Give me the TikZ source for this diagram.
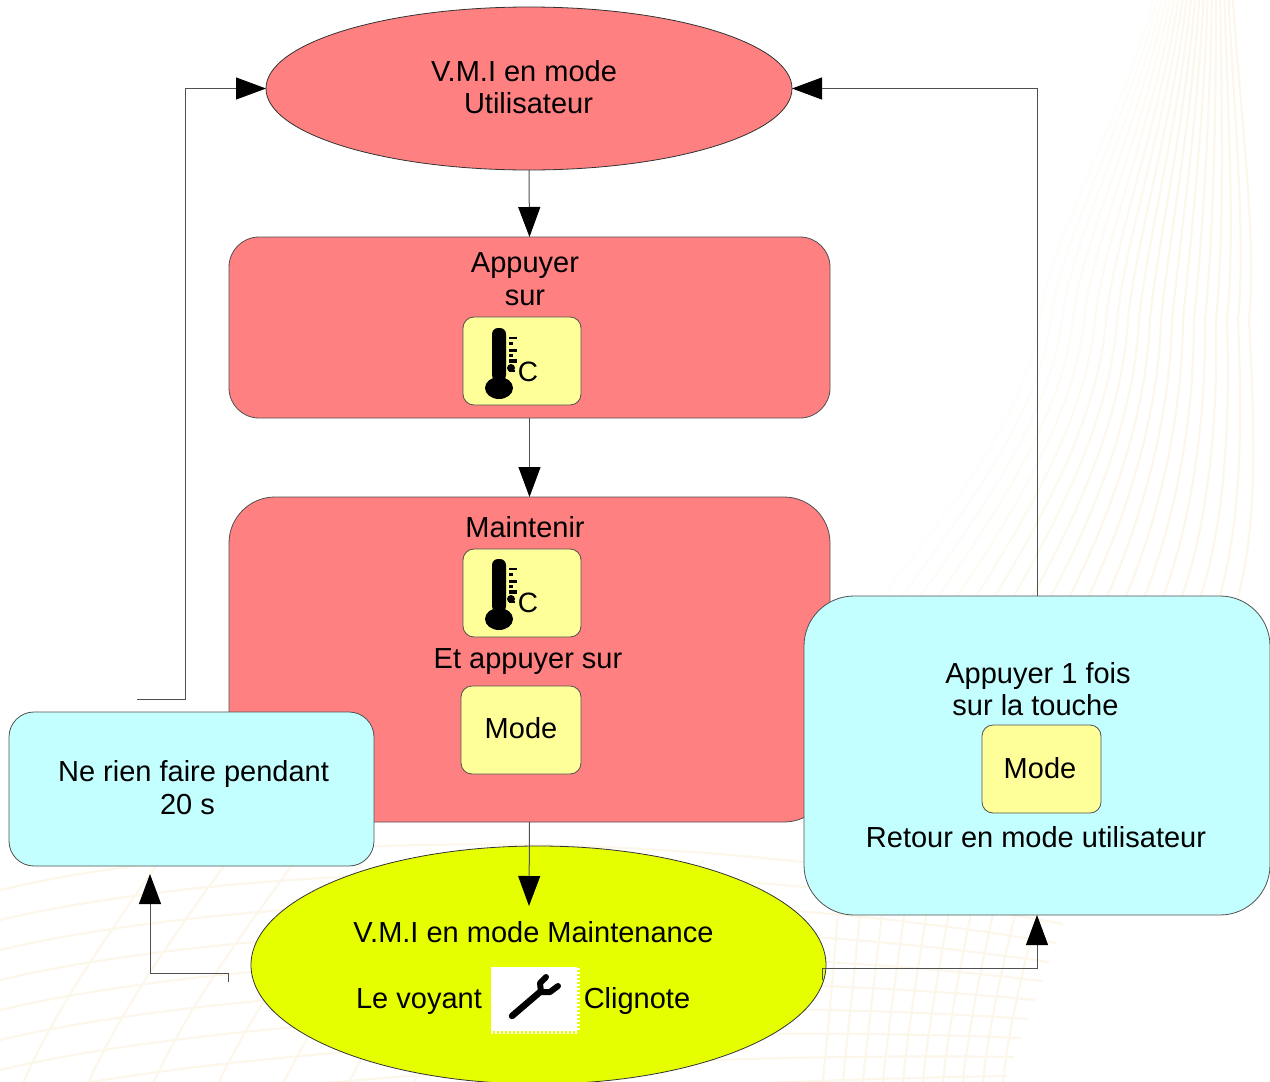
\documentclass[tikz,border=0pt]{standalone}
\usepackage{fontspec}
\setmainfont{Liberation Sans}
\usetikzlibrary{shapes.geometric,arrows.meta}
\definecolor{redfill}{HTML}{FF8080}
\definecolor{cyanfill}{HTML}{C4FFFF}
\definecolor{limefill}{HTML}{E6FF00}
\definecolor{keyfill}{HTML}{FFFF99}
\definecolor{wave}{HTML}{FCF7EA}
\definecolor{edge}{HTML}{505050}
\tikzset{
  oval/.style={shape=ellipse,draw=black!80,line width=.8pt,inner sep=0pt,outer sep=0pt},
  panel/.style={shape=rectangle,draw=edge,line width=.8pt,inner sep=0pt,outer sep=0pt},
  keybox/.style={panel,fill=keyfill,rounded corners=11pt},
  lbl/.style={anchor=base,inner sep=0pt,font=\fontsize{29}{29}\selectfont,text=black},
  conn/.style={draw=edge,line width=1pt,-{Triangle[length=30pt,width=22pt,color=black]}},
  plainconn/.style={draw=edge,line width=1pt},
  wavy/.style={draw=wave,line width=2.2pt}
}
\newcommand{\thermoicon}[2]{%
  \begin{scope}[shift={(#1,#2)}]
    \fill[black,rounded corners=6pt] (-7,-61) -- (7,-61) -- (7,-8) -- (-7,-8) -- cycle;
    \fill[black] (0,-1) ellipse (14 and 11);
    \fill[black] (10,-52) rectangle (18,-50);
    \fill[black] (10,-47) rectangle (14,-44);
    \fill[black] (10,-40) rectangle (18,-37);
    \fill[black] (10,-35) rectangle (14,-32);
    \fill[black] (10,-30) rectangle (18,-26);
    \fill[black] (12,-21) circle (4);
    \fill[black] (10,-19) rectangle (16,-17);
    \node[inner sep=0pt,anchor=base,font=\fontsize{28}{28}\selectfont] at (29,-8) {C};
  \end{scope}}
\begin{document}
\begin{tikzpicture}[x=1pt,y=-1pt]
\useasboundingbox (0,0) rectangle (1270,1082);
\clip (0,0) rectangle (1270,1082);
% background lines: fan at the upper right
\foreach \i in {0,...,19}{
  \pgfmathsetmacro{\xa}{1153+4.2*\i}
  \pgfmathsetmacro{\xb}{1040+11*\i}
  \pgfmathsetmacro{\xc}{880+18.8*\i}
  \pgfmathsetmacro{\op}{min(1,0.25+0.075*\i)}
  \draw[wavy,opacity=\op] (\xa,0) .. controls ({\xa-30+2*\i},120) and ({\xb+8},240) .. (\xb,320)
     .. controls ({\xb-14+1*\i},420) and ({\xc+60-2*\i},520) .. (\xc,600);
}
% background mesh at the bottom
\foreach \j in {0,...,9}{
  \draw[wavy] (0,{890+30*\j}) .. controls (200,{842+30*\j}) and (640,{812+30*\j}) .. ({1070-7*\j},{905+19*\j});
}
\foreach \j in {0,...,8}{
  \draw[wavy] ({20+65*\j},1090) .. controls ({50+66*\j},1020) and ({90+66*\j},960) .. ({160+68*\j},860);
}
\foreach \j in {0,...,9}{
  \draw[wavy] ({822+20*\j},1090) .. controls ({828+20*\j},1030) and ({835+21*\j},960) .. ({840+23*\j},880);
}
% panels
\node[panel,fill=redfill,rounded corners=30pt,minimum width=601pt,minimum height=181pt] (b1) at (529.5,327.5) {};
\node[panel,fill=redfill,rounded corners=46pt,minimum width=601pt,minimum height=325pt] (b2) at (529.5,659.5) {};
\node[oval,fill=redfill,minimum width=526pt,minimum height=163pt] (e1) at (529,88.5) {};
\node[oval,fill=limefill,minimum width=575pt,minimum height=238pt] (e2) at (538.5,965) {};
\node[panel,fill=cyanfill,rounded corners=25pt,minimum width=365pt,minimum height=154pt] (lb) at (191.5,789) {};
\node[panel,fill=cyanfill,rounded corners=50pt,minimum width=466pt,minimum height=319pt] (rb) at (1037,755.5) {};
% keys
\node[keybox,minimum width=118pt,minimum height=88pt] (k1) at (522,361) {};
\node[keybox,minimum width=118pt,minimum height=88pt] (k2) at (522,593) {};
\node[keybox,minimum width=120pt,minimum height=88pt] (k3) at (521,730) {};
\node[keybox,minimum width=119pt,minimum height=88pt] (k4) at (1041.5,769) {};
\thermoicon{499}{389}
\thermoicon{499}{620}
% wrench
\node[shape=rectangle,fill=white,inner sep=0pt,minimum width=86pt,minimum height=64pt] (wr) at (534,999) {};
\draw[white,line width=3pt,dash pattern=on 2pt off 2pt] (578,968) -- (578,1031);
\draw[white,line width=3pt,dash pattern=on 2pt off 2pt] (491,1032) -- (578,1032);
\draw[black,line width=6.5pt,line cap=round] (512,1016) -- (540,992);
\draw[black,line width=6pt,line cap=round,line join=round] (546,977) -- (540,983) -- (541,992) -- (550,992) -- (558,986);
% connector anchors
\coordinate (ls) at (137,699);
\coordinate (lc) at (185,699);
\coordinate (ms) at (228,982);
\coordinate (mc) at (228,973);
\coordinate (mb) at (150,973);
\coordinate (mt) at (150,874);
\coordinate (et) at (529,906);
\coordinate (es0) at (822,980);
\coordinate (es) at (822,968);
% connectors
\draw[conn] (e1.south) -- (b1.north);
\draw[conn] (b1.south) -- (b2.north);
\draw[conn] (b2.south) -- (et);
\draw[conn] (ls) -- (lc) |- (e1.west);
\draw[conn] (rb.north) |- (e1.east);
\draw[conn] (ms) -- (mc) -- (mb) -- (mt);
\draw[plainconn] (es0) -- (es);
\draw[conn] (es) -| (rb.south);
% labels
\node[lbl] (t1) at (524,81) {V.M.I en mode};
\node[lbl] (t2) at (528.5,113) {Utilisateur};
\node[lbl] (t3) at (525,272) {Appuyer};
\node[lbl] (t4) at (525,305) {sur};
\node[lbl] (t5) at (525,537) {Maintenir};
\node[lbl] (t6) at (528,668) {Et appuyer sur};
\node[lbl] (t7) at (521,738) {Mode};
\node[lbl] (t8) at (193.5,781) {Ne rien faire pendant};
\node[lbl] (t9) at (187.5,814) {20 s};
\node[lbl] (t10) at (1038,683) {Appuyer 1 fois};
\node[lbl] (t11) at (1035.5,715) {sur la touche};
\node[lbl] (t12) at (1040,778) {Mode};
\node[lbl] (t13) at (1036,847) {Retour en mode utilisateur};
\node[lbl] (t14) at (533.5,942) {V.M.I en mode Maintenance};
\node[lbl] (t15) at (419,1008) {Le voyant};
\node[lbl] (t16) at (637,1008) {Clignote};
\end{tikzpicture}
\end{document}
